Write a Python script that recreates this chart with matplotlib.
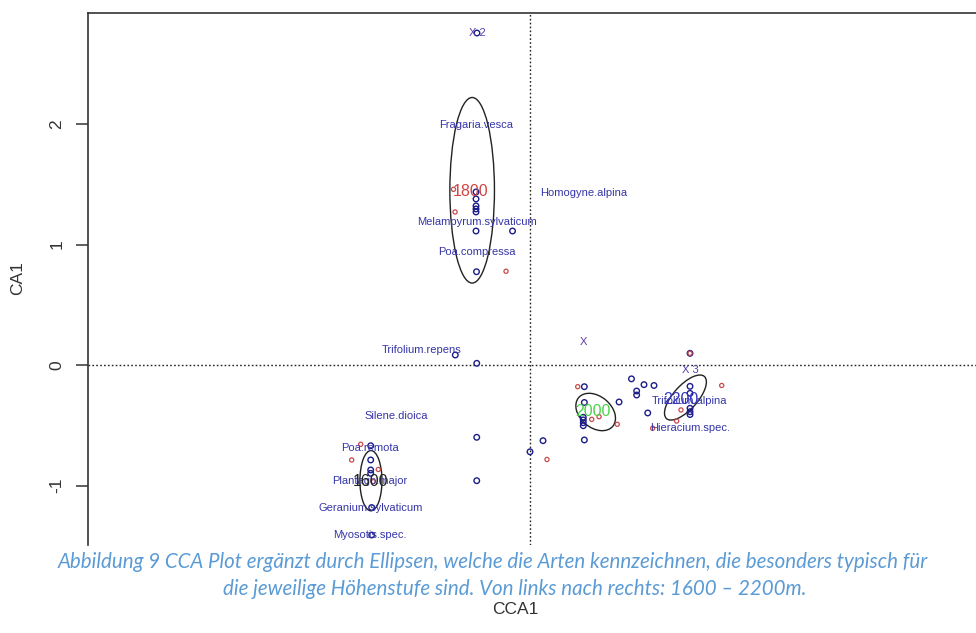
import matplotlib.pyplot as plt
from matplotlib.patches import Ellipse
import numpy as np

plt.rcParams['font.family'] = ['Liberation Sans', 'DejaVu Sans']

# site scores (blue circles)
site_x = [-0.44, -0.448, -0.448, -0.448, -0.448, -0.448, -0.448, -0.145, -0.444,
          -0.620, -0.442, -0.442, -0.442,
          -1.322, -1.322, -1.322, -1.322, -1.314, -1.314,
          0.0, 0.108,
          0.451, 0.451, 0.739, 0.442, 0.442, 0.442, 0.442, 0.451,
          0.842, 0.946, 1.029, 0.885, 0.885, 0.977,
          1.328, 1.328, 1.328, 1.328, 1.328, 1.328]
site_y = [2.755, 1.436, 1.378, 1.320, 1.295, 1.270, 1.112, 1.112, 0.774,
          0.083, 0.014, -0.600, -0.960,
          -0.670, -0.788, -0.871, -0.899, -1.183, -1.411,
          -0.720, -0.628,
          -0.180, -0.311, -0.307, -0.434, -0.456, -0.479, -0.504, -0.622,
          -0.115, -0.163, -0.170, -0.216, -0.249, -0.398,
          -0.177, -0.235, -0.359, -0.388, -0.411, 0.097]

# species scores (small red circles)
spec_x = [-0.635, -0.622, -0.199, -1.405, -1.480, -1.259, -1.300, 0.141,
          0.396, 0.512, 0.573, 0.724, 1.591, 1.253, 1.217, 1.018, 1.328]
spec_y = [1.458, 1.270, 0.778, -0.658, -0.788, -0.867, -0.968, -0.784,
          -0.180, -0.451, -0.429, -0.492, -0.170, -0.373, -0.465, -0.525, 0.097]

species_names = ["Fragaria.vesca", "Homogyne.alpina", "Melampyrum.sylvaticum",
                 "Poa.compressa", "Trifolium.repens", "Silene.dioica",
                 "Poa.remota", "Plantago.major", "Geranium.sylvaticum",
                 "Myosotis.spec.", "Trifolium.alpina", "Hieracium.spec."]
species_x = [-0.443, 0.443, -0.443, -0.443, -0.899, -1.106,
             -1.328, -1.328, -1.324, -1.328, 1.325, 1.328]
species_y = [1.992, 1.425, 1.19, 0.935, 0.124, -0.423,
             -0.686, -0.960, -1.189, -1.411, -0.299, -0.525]

constraint_names = ["X", "X 2", "X 3"]
constraint_x = [0.442, -0.44, 1.328]
constraint_y = [0.188, 2.755, -0.041]

# altitude groups with their ellipses
groups = ["1600", "1800", "2000", "2200"]
group_x = [-1.322, -0.490, 0.525, 1.253]
group_y = [-0.963, 1.436, -0.388, -0.285]
group_colors = ["#222222", "#d04545", "#4cd24c", "#3535c0"]
ell_x = [-1.32, -0.48, 0.545, 1.29]
ell_y = [-0.96, 1.45, -0.39, -0.27]
ell_w = [0.183, 0.37, 0.37, 0.47]
ell_h = [0.50, 1.54, 0.26, 0.20]
ell_angle = [0, 0, -40, 48]

yticks = [-1, 0, 1, 2]

caption1 = ("Abbildung 9 CCA Plot ergänzt durch Ellipsen, welche die Arten "
            "kennzeichnen, die besonders typisch für")
caption2 = "die jeweilige Höhenstufe sind. Von links nach rechts: 1600 \u2013 2200m."

W, H = 976, 633
fig = plt.figure(figsize=(W / 100, H / 100), dpi=100)

# plot region in pixels, one data unit = ppu pixels on both axes
left, top, bottom, right = 88, 13, 545, 1040
ppu = 120.5
x0px, y0px = 530, 365
ax = fig.add_axes([left / W, (H - bottom) / H, (right - left) / W, (bottom - top) / H])
ax.set_xlim((left - x0px) / ppu, (right - x0px) / ppu)
ax.set_ylim((y0px - bottom) / ppu, (y0px - top) / ppu)

for s in ['bottom', 'right']:
    ax.spines[s].set_visible(False)
for s in ['left', 'top']:
    ax.spines[s].set_color('#333333')
    ax.spines[s].set_linewidth(1.2)
ax.set_xticks([])
ax.set_yticks(yticks)
ax.set_yticklabels([str(t) for t in yticks], rotation=90, va='center',
                   fontsize=12.5, color='#333333')
ax.tick_params(axis='y', length=9, width=1.1, color='#333333', pad=8)

ax.axhline(0, color='#222222', linestyle=(0, (1.2, 1.6)), linewidth=1.0, zorder=1)
ax.axvline(0, color='#222222', linestyle=(0, (1.2, 1.6)), linewidth=1.0, zorder=1)

ax.scatter(site_x, site_y, s=16, facecolors='none', edgecolors='#1c1c8a',
           linewidths=1.0, zorder=3)
ax.scatter(spec_x, spec_y, s=9, facecolors='none', edgecolors='#c84a4a',
           linewidths=0.9, zorder=3)

for name, x, y in zip(species_names, species_x, species_y):
    ax.text(x, y, name, ha='center', va='center', fontsize=8, color='#3535a8',
            zorder=4)

for name, x, y in zip(constraint_names, constraint_x, constraint_y):
    ax.text(x, y, name, ha='center', va='center', fontsize=8, color='#5a3ea8',
            zorder=4)

for i, g in enumerate(groups):
    ax.add_patch(Ellipse((ell_x[i], ell_y[i]), ell_w[i], ell_h[i], angle=ell_angle[i],
                         fill=False, edgecolor='#222222', linewidth=1.0, zorder=2))
    ax.text(group_x[i], group_y[i], g, ha='center', va='center', fontsize=11.5,
            color=group_colors[i], zorder=5)

fig.text(58 / W, 1 - 562 / H, caption1, ha='left', va='center', fontsize=14.8,
         style='italic', color='#5b9bd5', family='Lato')
fig.text(515 / W, 1 - 589 / H, caption2, ha='center', va='center', fontsize=14.8,
         style='italic', color='#5b9bd5', family='Lato')
fig.text(515 / W, 1 - 609 / H, "CCA1", ha='center', va='center', fontsize=12.5,
         color='#333333')
fig.text(18 / W, 1 - 278 / H, "CA1", ha='center', va='center', rotation=90,
         fontsize=12.5, color='#333333')

fig.savefig('out.png', dpi=100)
